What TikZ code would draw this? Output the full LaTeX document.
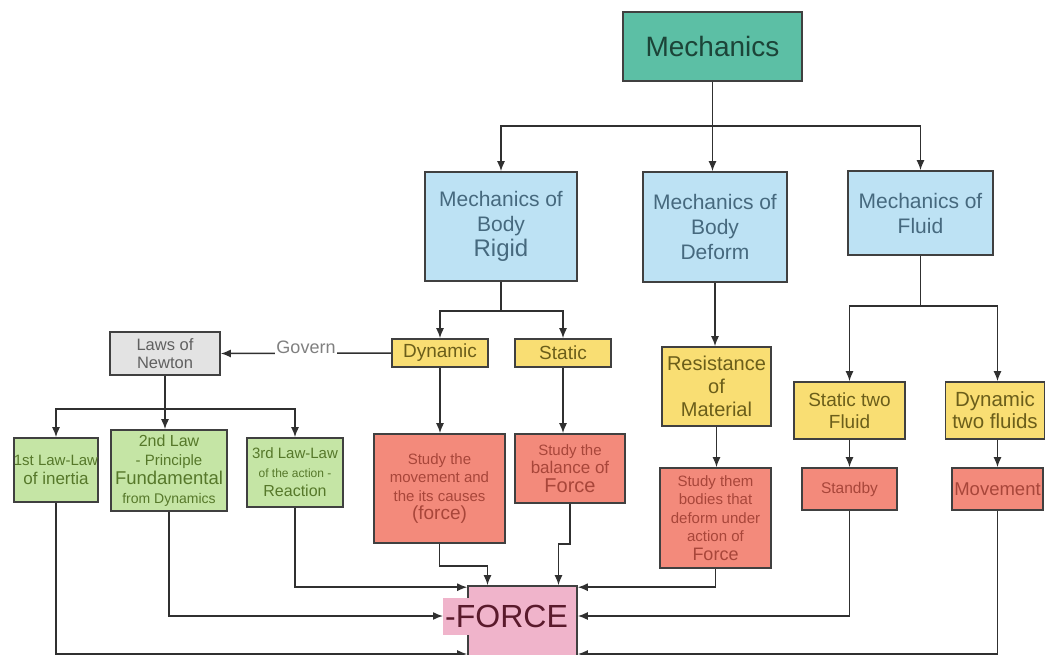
\documentclass[tikz,border=0pt]{standalone}
\usepackage{fontspec}
\setmainfont{Liberation Sans}
\usetikzlibrary{arrows.meta}
\newcommand{\fsz}[2]{\fontsize{#1}{#2}\selectfont}
\definecolor{boxline}{HTML}{404040}
\definecolor{linegray}{HTML}{303030}
\definecolor{mechteal}{HTML}{5CBFA5}
\definecolor{mechtext}{HTML}{1C4438}
\definecolor{blueb}{HTML}{BDE2F4}
\definecolor{bluetext}{HTML}{46697E}
\definecolor{yellowb}{HTML}{F9DE73}
\definecolor{yellowtext}{HTML}{6B5E1A}
\definecolor{redb}{HTML}{F38A7B}
\definecolor{redtext}{HTML}{A8463A}
\definecolor{greenb}{HTML}{C5E5A5}
\definecolor{greentext}{HTML}{56782A}
\definecolor{grayb}{HTML}{E3E3E3}
\definecolor{graytext}{HTML}{606060}
\definecolor{pinkb}{HTML}{F0B4CB}
\definecolor{forcetext}{HTML}{5A1A2C}
\tikzstyle{box} = [rectangle, draw=boxline, line width=1.6pt, inner sep=0pt, align=center]
\tikzstyle{mechbox} = [box, fill=mechteal, text=mechtext, font=\fsz{28}{30}]
\tikzstyle{bluebox} = [box, fill=blueb, text=bluetext, font=\fsz{21}{25}]
\tikzstyle{yellowbox} = [box, fill=yellowb, text=yellowtext, font=\fsz{19}{22}]
\tikzstyle{redbox} = [box, fill=redb, text=redtext, font=\fsz{15}{18.5}]
\tikzstyle{greenbox} = [box, fill=greenb, text=greentext, font=\fsz{15}{19}]
\tikzstyle{graybox} = [box, fill=grayb, text=graytext, font=\fsz{16.5}{18}]
\tikzstyle{forcebox} = [box, fill=pinkb]
\tikzstyle{forcelabel} = [fill=pinkb, text=forcetext, font=\fsz{32}{34}, inner xsep=2pt, minimum height=37pt]
\tikzstyle{govern} = [fill=white, text=graytext!80, font=\fsz{18}{20}, inner sep=1pt, yshift=6pt]
\tikzstyle{arrow} = [line width=1.5pt, draw=linegray, ->, >={Latex[length=10pt,width=8pt]}]

\begin{document}
\begin{tikzpicture}[x=1pt, y=-1pt]
    \useasboundingbox (0,0) rectangle (1045,655);

    % Nodes
    \node (mech) [mechbox, minimum width=179pt, minimum height=69pt] at (712.5,46.5) {Mechanics};

    \node (rigid) [bluebox, minimum width=152pt, minimum height=109pt] at (501,226.5) {Mechanics of\\Body\\{\fsz{24}{26}Rigid}};
    \node (deform) [bluebox, minimum width=144pt, minimum height=110pt] at (715,227) {Mechanics of\\Body\\Deform};
    \node (fluid) [bluebox, minimum width=145pt, minimum height=84pt] at (920.5,213) {Mechanics of\\Fluid};

    \node (dyn) [yellowbox, minimum width=96pt, minimum height=28pt] at (440,353) {Dynamic};
    \node (stat) [yellowbox, minimum width=96pt, minimum height=28pt] at (563,353) {Static};
    \node (resist) [yellowbox, font=\fsz{20}{23}, minimum width=109pt, minimum height=79pt] at (716.5,386.5) {Resistance\\of\\Material};
    \node (sfluid) [yellowbox, minimum width=111pt, minimum height=57pt] at (849.5,410.5) {Static two\\Fluid};
    \node (dfluid) [yellowbox, font=\fsz{20.5}{22}, minimum width=99pt, minimum height=57pt] at (995,410.5) {Dynamic\\two fluids};

    \node (dynstudy) [redbox, minimum width=131pt, minimum height=109pt] at (439.5,488.5) {Study the\\movement and\\the its causes\\{\fsz{19}{20}(force)}};
    \node (statstudy) [redbox, minimum width=110pt, minimum height=69pt] at (570,468.5) {Study the\\{\fsz{17}{19}balance of}\\{\fsz{20}{19}Force}};
    \node (resstudy) [redbox, minimum width=111pt, minimum height=100pt] at (715.5,518) {Study them\\bodies that\\deform under\\action of\\{\fsz{18}{19}Force}};
    \node (standby) [redbox, font=\fsz{15.5}{18}, minimum width=95pt, minimum height=42pt] at (849.5,489) {Standby};
    \node (movement) [redbox, font=\fsz{18.5}{20}, minimum width=91pt, minimum height=42pt] at (997.5,489) {Movement};

    \node (laws) [graybox, minimum width=110pt, minimum height=43pt] at (165,353.5) {Laws of\\Newton};
    \node (law1) [greenbox, minimum width=82pt, minimum height=64pt] at (56,470) {1st Law-Law\\{\fsz{17}{20}of inertia}};
    \node (law2) [greenbox, minimum width=116pt, minimum height=81pt] at (169,470.5) {{\fsz{16}{20}2nd Law}\\- Principle\\{\fsz{18.5}{18}Fundamental}\\{\fsz{14}{19}from Dynamics}};
    \node (law3) [greenbox, minimum width=96pt, minimum height=69pt] at (295,472.5) {3rd Law-Law\\{\fsz{12}{19}of the action -}\\{\fsz{16}{18}Reaction}};

    \node (force) [forcebox, minimum width=109pt, minimum height=94pt] at (522.5,633) {};
    \node (forcelbl) [forcelabel, anchor=west] at (443,616) {-FORCE};

    % Arrows
    \draw [arrow] (mech.south) -- ++(0,44) -| (rigid.north);
    \draw [arrow] (mech.south) -- (mech.south |- deform.north);
    \draw [arrow] (mech.south) -- ++(0,44) -| (fluid.north);

    \draw [arrow] (rigid.south) -- ++(0,29) -| (dyn.north);
    \draw [arrow] (rigid.south) -- ++(0,29) -| (stat.north);
    \draw [arrow] (deform.south) -- (deform.south |- resist.north);
    \draw [arrow] (fluid.south) -- ++(0,50) -| (sfluid.north);
    \draw [arrow] (fluid.south) -- ++(0,50) -| (movement.north |- dfluid.north);

    \draw [arrow] (dyn.south) -- (dyn.south |- dynstudy.north);
    \draw [arrow] (stat.south) -- (stat.south |- statstudy.north);
    \draw [arrow] (resist.south) -- (resist.south |- resstudy.north);
    \draw [arrow] (sfluid.south) -- (sfluid.south |- standby.north);
    \draw [arrow] (movement.north |- dfluid.south) -- (movement.north);

    \draw [arrow] (dyn.west) -- node[govern] {Govern} (laws.east);
    \draw [arrow] (laws.south) -- ++(0,33) -| (law1.north);
    \draw [arrow] (laws.south) -- (laws.south |- law2.north);
    \draw [arrow] (laws.south) -- ++(0,33) -| (law3.north);

    \draw [arrow] (dynstudy.south) -- ++(0,22) -| ([xshift=-35pt]force.north);
    \draw [arrow] (statstudy.south) -- ++(0,40) -| ([xshift=36pt]force.north);
    \draw [arrow] (resstudy.south) |- ([yshift=-2pt]force.north east);
    \draw [arrow] (law3.south) |- ([yshift=-2pt]force.north west);
    \draw [arrow] (law2.south) |- (forcelbl.west);
    \draw [arrow] (standby.south) |- (forcelbl -| force.east);
    \draw [arrow] (law1.south) |- ([yshift=-21pt]force.west);
    \draw [arrow] (movement.south) |- ([yshift=-21pt]force.east);

\end{tikzpicture}
\end{document}
